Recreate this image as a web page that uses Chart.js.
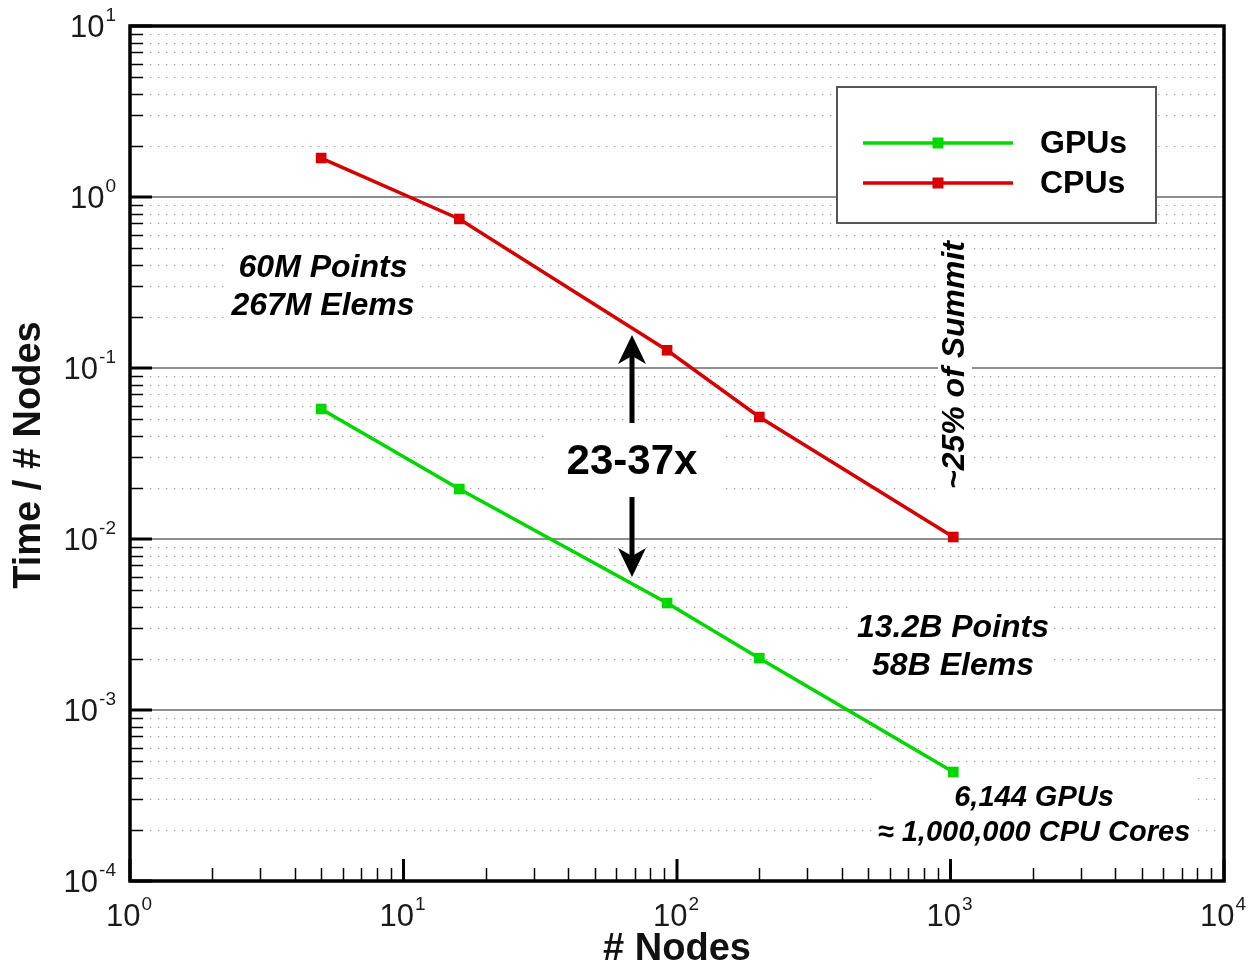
<!DOCTYPE html>
<html><head><meta charset="utf-8">
<script src="https://cdn.jsdelivr.net/npm/chart.js@4/dist/chart.umd.min.js"></script>
<style>html,body{margin:0;padding:0;background:#fff}#wrap{width:1250px;height:968px;position:relative}</style>
</head><body><div id="wrap"><canvas id="c" width="1250" height="968"></canvas></div>
<script>
// ---- data ----
const nodes = [5, 16, 92, 200, 1024];
const gpuTime = [0.0576, 0.0196, 0.00422, 0.00201, 0.000434];
const cpuTime = [1.69, 0.744, 0.127, 0.0517, 0.01027];
const seriesNames = ['GPUs', 'CPUs'];
const seriesColors = ['#00d800', '#d80000'];
const xTickExps = [0, 1, 2, 3, 4];
const yTickExps = [1, 0, -1, -2, -3, -4];
const xTitle = '# Nodes';
const yTitle = 'Time / # Nodes';

const FF = "'Liberation Sans', Arial, Helvetica, sans-serif";

function drawPow(ctx, exp, x, baseY, align) {
  const main = '10', sup = String(exp);
  ctx.font = '31px ' + FF;
  const wm = ctx.measureText(main).width;
  ctx.font = '19px ' + FF;
  const ws = ctx.measureText(sup).width;
  const total = wm + 1 + ws;
  let left = align === 'right' ? x - total : x - total / 2;
  ctx.fillStyle = '#1a1a1a';
  ctx.textAlign = 'left';
  ctx.textBaseline = 'alphabetic';
  ctx.font = '31px ' + FF;
  ctx.fillText(main, left, baseY);
  ctx.font = '19px ' + FF;
  ctx.fillText(sup, left + wm + 1, baseY - 16);
}

function textBlock(ctx, lines, cx, cy, lineH, font) {
  ctx.font = font;
  let w = 0;
  lines.forEach(l => { w = Math.max(w, ctx.measureText(l.t).width); });
  const h = lineH * lines.length;
  ctx.fillStyle = '#fff';
  ctx.fillRect(cx - w / 2 - 5, cy - h / 2 - 2, w + 10, h + 4);
  ctx.fillStyle = '#000';
  ctx.textAlign = 'center';
  ctx.textBaseline = 'middle';
  lines.forEach((l, i) => {
    ctx.fillText(l.t, cx, cy - h / 2 + lineH * (i + 0.5));
  });
}

function arrowHead(ctx, x, tipY, dir) {
  ctx.beginPath();
  ctx.moveTo(x, tipY);
  ctx.lineTo(x + 14, tipY - dir * 29);
  ctx.lineTo(x, tipY - dir * 21);
  ctx.lineTo(x - 14, tipY - dir * 29);
  ctx.closePath();
  ctx.fill();
}

const customPlugin = {
  id: 'custom',
  beforeDatasetsDraw(chart) {
    const ctx = chart.ctx, ca = chart.chartArea;
    const ys = chart.scales.y;
    ctx.save();
    ctx.strokeStyle = '#9a9a9a';
    ctx.lineWidth = 1.2;
    ctx.setLineDash([1.3, 6.7]);
    for (let e = -4; e <= 0; e++) {
      for (let m = 2; m <= 9; m++) {
        const y = Math.round(ys.getPixelForValue(m * Math.pow(10, e))) + 0.5;
        ctx.beginPath(); ctx.moveTo(ca.left + 4, y); ctx.lineTo(ca.right, y); ctx.stroke();
      }
    }
    ctx.setLineDash([]);
    ctx.strokeStyle = '#6a6a6a';
    ctx.lineWidth = 1.7;
    for (let e = -3; e <= 0; e++) {
      const y = ys.getPixelForValue(Math.pow(10, e));
      ctx.beginPath(); ctx.moveTo(ca.left, y); ctx.lineTo(ca.right, y); ctx.stroke();
    }
    const bi = 'italic bold 32px ' + FF;
    textBlock(ctx, [{t: '60M Points'}, {t: '267M Elems'}], 323, 287, 38, bi);
    textBlock(ctx, [{t: '13.2B Points'}, {t: '58B Elems'}], 953, 647, 38, bi);
    textBlock(ctx, [{t: '6,144 GPUs'}, {t: '\u2248 1,000,000 CPU Cores'}], 1034, 815, 35, 'italic bold 29px ' + FF);
    ctx.save();
    ctx.translate(955, 365);
    ctx.rotate(-Math.PI / 2);
    ctx.font = 'italic bold 32px ' + FF;
    const sw = ctx.measureText('~25% of Summit').width;
    ctx.fillStyle = '#fff';
    ctx.fillRect(-sw / 2 - 4, -17, sw + 8, 34);
    ctx.fillStyle = '#000';
    ctx.textAlign = 'center';
    ctx.textBaseline = 'middle';
    ctx.fillText('~25% of Summit', 0, 0);
    ctx.restore();
    ctx.fillStyle = '#fff';
    ctx.fillRect(548, 425, 174, 70);
    ctx.fillStyle = '#000';
    ctx.font = 'bold 42px ' + FF;
    ctx.textAlign = 'center';
    ctx.textBaseline = 'middle';
    ctx.fillText('23-37x', 632, 462);
    ctx.strokeStyle = '#000';
    ctx.lineWidth = 5;
    ctx.beginPath(); ctx.moveTo(632, 423); ctx.lineTo(632, 352); ctx.stroke();
    ctx.beginPath(); ctx.moveTo(632, 497); ctx.lineTo(632, 560); ctx.stroke();
    arrowHead(ctx, 632, 335, -1);
    arrowHead(ctx, 632, 577, 1);
    ctx.restore();
  },
  afterDatasetsDraw(chart) {
    const ctx = chart.ctx, ca = chart.chartArea;
    const xs = chart.scales.x, ys = chart.scales.y;
    ctx.save();
    ctx.strokeStyle = '#000';
    for (let e = -4; e <= 0; e++) {
      for (let m = 2; m <= 9; m++) {
        const y = Math.round(ys.getPixelForValue(m * Math.pow(10, e))) + 0.5;
        ctx.lineWidth = 1.5;
        ctx.beginPath(); ctx.moveTo(ca.left, y); ctx.lineTo(ca.left + 13, y); ctx.stroke();
      }
    }
    yTickExps.forEach(e => {
      const y = ys.getPixelForValue(Math.pow(10, e));
      ctx.lineWidth = 3;
      ctx.beginPath(); ctx.moveTo(ca.left, y); ctx.lineTo(ca.left + 22, y); ctx.stroke();
    });
    for (let e = 0; e <= 3; e++) {
      for (let m = 2; m <= 9; m++) {
        const x = Math.round(xs.getPixelForValue(m * Math.pow(10, e))) + 0.5;
        ctx.lineWidth = 1.5;
        ctx.beginPath(); ctx.moveTo(x, ca.bottom); ctx.lineTo(x, ca.bottom - 13); ctx.stroke();
      }
    }
    xTickExps.forEach(e => {
      const x = xs.getPixelForValue(Math.pow(10, e));
      ctx.lineWidth = 3;
      ctx.beginPath(); ctx.moveTo(x, ca.bottom); ctx.lineTo(x, ca.bottom - 22); ctx.stroke();
    });
    ctx.lineWidth = 3.5;
    ctx.strokeStyle = '#000';
    ctx.strokeRect(ca.left, ca.top, ca.right - ca.left, ca.bottom - ca.top);
    yTickExps.forEach(e => {
      const y = ys.getPixelForValue(Math.pow(10, e));
      drawPow(ctx, e, 116, y + 11, 'right');
    });
    xTickExps.forEach(e => {
      const x = xs.getPixelForValue(Math.pow(10, e));
      drawPow(ctx, e, x - 1, 926, 'center');
    });
    ctx.fillStyle = '#111';
    ctx.font = 'bold 38px ' + FF;
    ctx.textAlign = 'center';
    ctx.textBaseline = 'middle';
    ctx.fillText(xTitle, (ca.left + ca.right) / 2, 950);
    ctx.save();
    ctx.translate(30, 455);
    ctx.rotate(-Math.PI / 2);
    ctx.fillText(yTitle, 0, 0);
    ctx.restore();
    const lx = 837, ly = 87, lw = 319, lh = 136;
    ctx.fillStyle = '#fff';
    ctx.fillRect(lx, ly, lw, lh);
    ctx.strokeStyle = '#555';
    ctx.lineWidth = 2;
    ctx.strokeRect(lx, ly, lw, lh);
    chart.data.datasets.forEach((ds, i) => {
      const y = 143 + i * 40;
      ctx.strokeStyle = ds.borderColor;
      ctx.lineWidth = 3.5;
      ctx.beginPath(); ctx.moveTo(863, y); ctx.lineTo(1013, y); ctx.stroke();
      ctx.fillStyle = ds.borderColor;
      ctx.fillRect(938 - 5.5, y - 5.5, 11, 11);
      ctx.fillStyle = '#000';
      ctx.font = 'bold 32px ' + FF;
      ctx.textAlign = 'left';
      ctx.textBaseline = 'middle';
      ctx.fillText(ds.label, 1040, y + 1);
    });
    ctx.restore();
  }
};

new Chart(document.getElementById('c'), {
  type: 'scatter',
  data: {
    datasets: [
      { label: seriesNames[0], data: nodes.map((n, i) => ({x: n, y: gpuTime[i]})),
        borderColor: seriesColors[0], backgroundColor: seriesColors[0] },
      { label: seriesNames[1], data: nodes.map((n, i) => ({x: n, y: cpuTime[i]})),
        borderColor: seriesColors[1], backgroundColor: seriesColors[1] }
    ]
  },
  options: {
    responsive: false,
    animation: false,
    showLine: true,
    layout: { padding: { left: 130, top: 26, right: 26, bottom: 87 } },
    elements: {
      line: { borderWidth: 3.5, tension: 0 },
      point: { pointStyle: 'rect', radius: 7.5, borderWidth: 0 }
    },
    plugins: { legend: { display: false }, tooltip: { enabled: false } },
    scales: {
      x: { type: 'logarithmic', min: 1, max: 10000, display: false },
      y: { type: 'logarithmic', min: 1e-4, max: 10, display: false }
    }
  },
  plugins: [customPlugin]
});
</script>
</body></html>
